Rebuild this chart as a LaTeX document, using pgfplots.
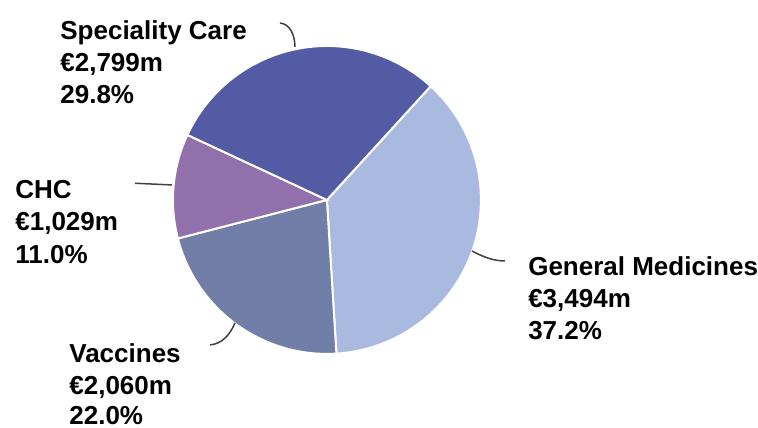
\documentclass[border=0pt]{standalone}
\usepackage{fontspec}
\setmainfont{Liberation Sans}
\usepackage{pgfplots}
\pgfplotsset{compat=1.18}
\definecolor{cGM}{HTML}{AAB9E0}
\definecolor{cSpec}{HTML}{525BA3}
\definecolor{cCHC}{HTML}{9270AC}
\definecolor{cVac}{HTML}{717EA8}
\definecolor{cLine}{HTML}{404040}
\begin{document}
\begin{tikzpicture}
\begin{axis}[
  hide axis, scale only axis, clip=false,
  x=0.5bp, y=0.5bp,
  xmin=-327, xmax=431, ymin=-228, ymax=200,
]
% values (EUR m)
\pgfmathsetmacro\vGM{3494}
\pgfmathsetmacro\vVac{2060}
\pgfmathsetmacro\vCHC{1029}
\pgfmathsetmacro\vSpec{2799}
\pgfmathsetmacro\tot{\vGM+\vVac+\vCHC+\vSpec}
\pgfmathsetmacro\aA{47.6}
\pgfmathsetmacro\aB{\aA-360*(\vGM/\tot)}
\pgfmathsetmacro\aC{\aB-360*(\vVac/\tot)}
\pgfmathsetmacro\aD{\aC-360*(\vCHC/\tot)}
\pgfmathsetmacro\aE{\aD-360*(\vSpec/\tot)}
\path (axis cs:-327,-228) rectangle (axis cs:431,200);
\filldraw[fill=cGM, draw=white, line width=1bp] (axis cs:0,0) -- (axis cs:{154*cos(\aA)},{154*sin(\aA)}) arc[start angle=\aA, end angle=\aB, radius=77bp] -- cycle;
\filldraw[fill=cVac, draw=white, line width=1bp] (axis cs:0,0) -- (axis cs:{154*cos(\aB)},{154*sin(\aB)}) arc[start angle=\aB, end angle=\aC, radius=77bp] -- cycle;
\filldraw[fill=cCHC, draw=white, line width=1bp] (axis cs:0,0) -- (axis cs:{154*cos(\aC)},{154*sin(\aC)}) arc[start angle=\aC, end angle=\aD, radius=77bp] -- cycle;
\filldraw[fill=cSpec, draw=white, line width=1bp] (axis cs:0,0) -- (axis cs:{154*cos(\aD)},{154*sin(\aD)}) arc[start angle=\aD, end angle=\aE, radius=77bp] -- cycle;
% leader lines
\draw[cLine, line width=0.75bp] (axis cs:-47,177) .. controls (axis cs:-37,176) and (axis cs:-32,165) .. (axis cs:-32,153);
\draw[cLine, line width=0.75bp] (axis cs:-192,16.7) -- (axis cs:-155,15);
\draw[cLine, line width=0.75bp] (axis cs:-117,-145) .. controls (axis cs:-105,-144) and (axis cs:-97,-135) .. (axis cs:-92,-123);
\draw[cLine, line width=0.75bp] (axis cs:145,-51) .. controls (axis cs:158,-58) and (axis cs:168,-61) .. (axis cs:178,-61);
% labels
\tikzset{lab/.style={anchor=base west, inner sep=0pt, font=\fontsize{13bp}{16bp}\selectfont\bfseries}}
\node[lab] at (axis cs:-267,160) {Speciality Care};
\node[lab] at (axis cs:-267,128) {€2,799m};
\node[lab] at (axis cs:-267,96) {29.8\%};
\node[lab] at (axis cs:-312,1.7) {CHC};
\node[lab] at (axis cs:-312,-31) {€1,029m};
\node[lab] at (axis cs:-312,-63.5) {11.0\%};
\node[lab] at (axis cs:-258,-162.7) {Vaccines};
\node[lab] at (axis cs:-258,-194.5) {€2,060m};
\node[lab] at (axis cs:-258,-225) {22.0\%};
\node[lab] at (axis cs:201,-76) {General Medicines};
\node[lab] at (axis cs:201,-108) {€3,494m};
\node[lab] at (axis cs:201,-140) {37.2\%};
\end{axis}
\end{tikzpicture}
\end{document}
